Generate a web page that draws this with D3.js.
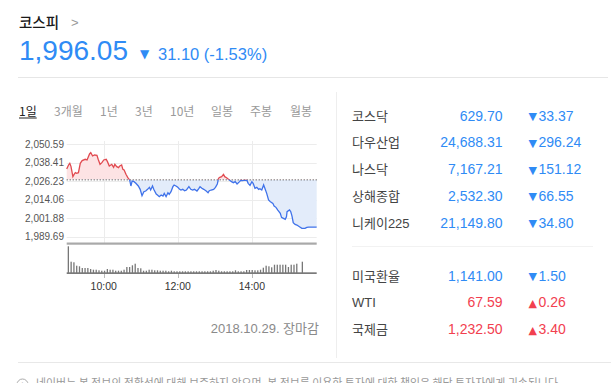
<!DOCTYPE html>
<html><head><meta charset="utf-8">
<script src="https://cdn.jsdelivr.net/npm/d3@7"></script>
<style>html,body{margin:0;padding:0;background:#fff;overflow:hidden}svg{display:block}</style>
</head><body>
<svg id="c" width="611" height="383"></svg>
<script>
// ---------- data ----------
const indexName = "코스피";
const currentValue = 1996.05;
const changeValue = 31.10;
const changePct = -1.53;
const prevClose = 2027.15;
const tabs = ["1일", "3개월", "1년", "3년", "10년", "일봉", "주봉", "월봉"];
const yTicks = [2050.59, 2038.41, 2026.23, 2014.06, 2001.88, 1989.69];
const xTicks = [60, 180, 300];               // minutes after 09:00
const xTickLabels = ["10:00", "12:00", "14:00"];
const dateLabel = "2018.10.29. 장마감";
const priceMinutes = [0,3,5,7,10,12,14,16,19,22,25,30,33,37,39,42,45,49,51,54,57,60,64,66,69,73,76,78,81,84,86,89,91,93,96,99,102,104,106,109,112,116,119,122,125,128,131,134,136,139,141,145,147,150,153,156,158,161,164,166,169,172,174,177,180,183,185,188,191,194,198,201,204,207,211,214,216,219,222,226,229,231,234,238,241,244,246,248,251,254,256,259,262,265,267,270,273,276,280,282,285,289,292,294,297,300,302,305,308,311,313,316,319,321,324,327,330,334,336,339,342,346,348,351,354,356,357,361,363,365,367,370,373,377,381,386,389,392,405];
const priceValues = [2034.32,2036.96,2038.06,2035.86,2029.26,2030.80,2031.90,2031.46,2031.90,2038.06,2039.82,2040.70,2040.26,2044.21,2045.09,2042.89,2043.55,2043.33,2040.70,2037.40,2038.50,2040.26,2040.70,2039.16,2036.30,2037.40,2035.42,2037.40,2035.86,2035.20,2036.30,2036.96,2034.10,2033.66,2030.80,2028.60,2027.07,2023.11,2026.41,2025.97,2024.87,2023.11,2020.91,2016.73,2019.37,2019.81,2020.91,2022.23,2020.47,2023.11,2020.91,2017.83,2017.17,2016.07,2017.17,2016.51,2018.27,2016.07,2018.71,2017.61,2019.37,2022.67,2023.77,2023.11,2022.23,2020.91,2020.47,2020.91,2020.03,2020.47,2022.67,2020.91,2020.47,2020.91,2019.81,2021.35,2022.67,2021.57,2020.91,2019.81,2018.71,2020.03,2020.47,2020.91,2022.23,2024.43,2028.16,2028.82,2029.26,2030.80,2029.26,2028.60,2027.51,2026.63,2025.97,2025.31,2025.97,2024.43,2025.97,2026.90,2026.70,2027.00,2026.80,2024.87,2023.55,2025.97,2024.87,2021.57,2022.23,2020.91,2021.35,2020.47,2023.77,2021.57,2018.27,2013.87,2012.77,2011.67,2009.91,2009.04,2007.28,2005.06,2002.44,2001.78,2001.12,2002.85,2006.16,2007.28,2006.16,2003.29,1998.92,1997.81,1997.37,1996.27,1995.17,1995.17,1995.83,1996.05,1996.05];
const volumes = [267,113,107,73,67,50,50,50,40,33,33,27,23,23,40,33,33,23,23,23,33,60,60,77,93,50,47,23,23,33,33,27,27,23,23,23,17,23,17,17,17,17,17,17,17,17,17,17,17,17,17,17,23,30,23,17,17,17,17,17,27,17,17,17,30,30,30,27,27,33,53,73,67,57,83,83,83,83,83,60,83,83,93,0,113];
const marketNames1 = ["코스닥", "다우산업", "나스닥", "상해종합", "니케이225"];
const marketValues1 = [629.70, 24688.31, 7167.21, 2532.30, 21149.80];
const marketChanges1 = [-33.37, -296.24, -151.12, -66.55, -34.80];
const marketNames2 = ["미국환율", "WTI", "국제금"];
const marketValues2 = [1141.00, 67.59, 1232.50];
const marketChanges2 = [-1.50, 0.26, 3.40];
const notice = "네이버는 본 정보의 정확성에 대해 보증하지 않으며, 본 정보를 이용한 투자에 대한 책임은 해당 투자자에게 귀속됩니다.";

// ---------- layout / styles ----------
const tabX = [19, 54, 100, 135, 170, 211, 250, 290];
const BLUE = "#2f8bf5", RED = "#f2404f";
const KR = "'Noto Sans CJK KR', sans-serif";
const NUM = "'Liberation Sans', 'Noto Sans CJK KR', sans-serif";
const svg = d3.select("#c");
const fmt2 = d3.format(",.2f");
const fix2 = v => v.toFixed(2);

// header
svg.append("text").attr("x", 19).attr("y", 27.5).attr("font-family", KR).attr("font-size", 14.5)
  .attr("fill", "#1a1a1a").attr("font-weight", 500).text(indexName);
svg.append("text").attr("x", 71).attr("y", 26.5).attr("font-family", NUM).attr("font-size", 13)
  .attr("fill", "#999").text(">");
svg.append("text").attr("x", 19).attr("y", 60).attr("font-family", NUM).attr("font-size", 28)
  .attr("fill", BLUE).text(fmt2(currentValue));
svg.append("text").attr("x", 140).attr("y", 57.5).attr("font-family", "'DejaVu Sans'").attr("font-size", 12)
  .attr("fill", BLUE).text(changePct < 0 ? "▼" : "▲");
svg.append("text").attr("x", 158).attr("y", 59.5).attr("font-family", NUM).attr("font-size", 16.5)
  .attr("fill", BLUE).text(`${fix2(changeValue)} (${fix2(changePct)}%)`);
svg.append("line").attr("x1", 18).attr("x2", 608).attr("y1", 77.5).attr("y2", 77.5).attr("stroke", "#e6e6e6");

// tabs
tabs.forEach((t, i) => {
  const el = svg.append("text").attr("x", tabX[i]).attr("y", 115.5).attr("font-family", KR).attr("font-size", 12)
    .attr("fill", i === 0 ? "#222" : "#9a9a9a").text(t);
  if (i === 0) {
    const w = el.node().getComputedTextLength();
    svg.append("line").attr("x1", tabX[i]).attr("x2", tabX[i] + w).attr("y1", 118).attr("y2", 118).attr("stroke", "#222");
  }
});

// price chart
const x = d3.scaleLinear().domain([0, 405]).range([66.7, 316.7]);
const y = d3.scaleLinear().domain([1989.69, 2050.59]).range([236.7, 144.3]);
const pts = priceMinutes.map((m, i) => [m, priceValues[i]]);

const g = svg.append("g");
g.selectAll(".hg").data(yTicks).join("line").attr("x1", x(0)).attr("x2", x(405))
  .attr("y1", d => Math.round(y(d)) + 0.5).attr("y2", d => Math.round(y(d)) + 0.5).attr("stroke", "#ececec");
g.selectAll(".vg").data(xTicks).join("line").attr("x1", d => Math.round(x(d)) + 0.5).attr("x2", d => Math.round(x(d)) + 0.5)
  .attr("y1", 141).attr("y2", 243).attr("stroke", "#ececec");
g.selectAll(".yl").data(yTicks).join("text").attr("x", 64).attr("y", d => y(d)).attr("dy", "0.35em")
  .attr("text-anchor", "end").attr("font-family", NUM).attr("font-size", 10).attr("fill", "#555").text(d => fmt2(d));

const pc = y(prevClose);
const defs = svg.append("defs");
defs.append("clipPath").attr("id", "above").append("rect").attr("x", 60).attr("y", 130).attr("width", 270).attr("height", pc - 130);
defs.append("clipPath").attr("id", "below").append("rect").attr("x", 60).attr("y", pc).attr("width", 270).attr("height", 120);

const area = d3.area().x(d => x(d[0])).y0(pc).y1(d => y(d[1]));
const line = d3.line().x(d => x(d[0])).y(d => y(d[1]));
g.append("path").datum(pts).attr("d", area).attr("fill", "#fde3e4").attr("clip-path", "url(#above)");
g.append("path").datum(pts).attr("d", area).attr("fill", "#e3ecfa").attr("clip-path", "url(#below)");
g.append("line").attr("x1", x(0)).attr("x2", x(405)).attr("y1", pc).attr("y2", pc)
  .attr("stroke", "#333").attr("stroke-dasharray", "1,2");
g.append("path").datum(pts).attr("d", line).attr("fill", "none").attr("stroke", "#e14a50").attr("stroke-width", 1.3).attr("clip-path", "url(#above)");
g.append("path").datum(pts).attr("d", line).attr("fill", "none").attr("stroke", "#3f72ea").attr("stroke-width", 1.3).attr("clip-path", "url(#below)");

// volume chart
g.append("rect").attr("x", x(0)).attr("y", 242.5).attr("width", x(405) - x(0)).attr("height", 2.2).attr("fill", "#a9a9a9");
const vx = d3.scaleLinear().domain([0, volumes.length - 1]).range([68.3, 302.3]);
const vy = d3.scaleLinear().domain([0, d3.max(volumes)]).range([273, 246.3]);
g.selectAll(".vb").data(volumes).join("rect").attr("x", (d, i) => vx(i) - 0.6).attr("width", 1.3)
  .attr("y", d => vy(d)).attr("height", d => 273 - vy(d)).attr("fill", "#777");
g.append("rect").attr("x", x(0)).attr("y", 272.3).attr("width", x(405) - x(0)).attr("height", 1.7).attr("fill", "#7a7a7a");
g.selectAll(".xt").data(xTicks).join("line").attr("x1", d => Math.round(x(d)) + 0.5).attr("x2", d => Math.round(x(d)) + 0.5)
  .attr("y1", 274).attr("y2", 278).attr("stroke", "#bbb");
g.selectAll(".xl").data(xTicks).join("text").attr("x", d => x(d)).attr("y", 289.5).attr("text-anchor", "middle")
  .attr("font-family", NUM).attr("font-size", 10.5).attr("fill", "#333").text((d, i) => xTickLabels[i]);
svg.append("text").attr("x", 319).attr("y", 333).attr("text-anchor", "end").attr("font-family", NUM)
  .attr("font-size", 13).attr("fill", "#8a8a8a").text(dateLabel);

// right side table
svg.append("line").attr("x1", 336.5).attr("x2", 336.5).attr("y1", 92).attr("y2", 358).attr("stroke", "#eeeeee");
svg.append("line").attr("x1", 352).attr("x2", 593).attr("y1", 246.5).attr("y2", 246.5).attr("stroke", "#f2f2f2");
function table(names, values, changes, y0, step) {
  names.forEach((n, i) => {
    const yy = y0 + i * step;
    const up = changes[i] > 0;
    const col = up ? RED : BLUE;
    svg.append("text").attr("x", 352).attr("y", yy + 5).attr("font-family", NUM).attr("font-size", 13)
      .attr("fill", "#444").text(n);
    svg.append("text").attr("x", 502.5).attr("y", yy + 5).attr("text-anchor", "end").attr("font-family", NUM)
      .attr("font-size", 14).attr("fill", col).text(fmt2(values[i]));
    const t = svg.append("text").attr("x", 528.5).attr("y", yy + 5).attr("fill", col);
    t.append("tspan").attr("font-family", "'DejaVu Sans'").attr("font-size", 11).attr("dy", -0.5).text(up ? "▲" : "▼");
    t.append("tspan").attr("font-family", NUM).attr("font-size", 14).attr("dx", 1.5).attr("dy", 0.5).text(fix2(Math.abs(changes[i])));
  });
}
table(marketNames1, marketValues1, marketChanges1, 115.7, 26.7);
table(marketNames2, marketValues2, marketChanges2, 275.5, 26.8);

// footer
svg.append("line").attr("x1", 18).attr("x2", 611).attr("y1", 362.5).attr("y2", 362.5).attr("stroke", "#e8e8e8");
svg.append("circle").attr("cx", 22.5).attr("cy", 384.5).attr("r", 5.5).attr("fill", "none").attr("stroke", "#aaa");
svg.append("text").attr("x", 22.5).attr("y", 387).attr("text-anchor", "middle").attr("font-family", NUM)
  .attr("font-size", 8).attr("fill", "#aaa").text("i");
svg.append("text").attr("x", 36).attr("y", 387.5).attr("font-family", KR).attr("font-size", 12)
  .attr("fill", "#999").attr("textLength", 525).attr("lengthAdjust", "spacingAndGlyphs").text(notice);
</script>
</body></html>
